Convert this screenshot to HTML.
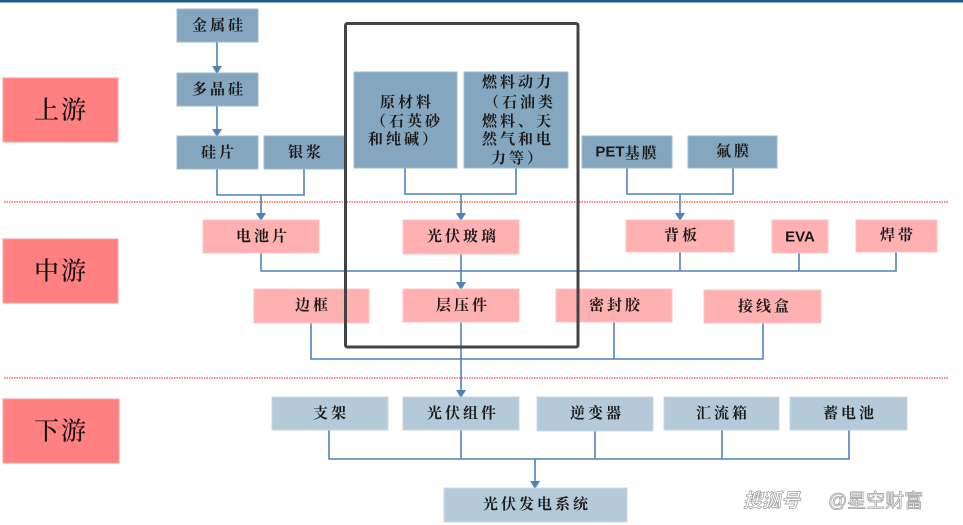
<!DOCTYPE html>
<html>
<head>
<meta charset="utf-8">
<style>
html,body{margin:0;padding:0;background:#fff;}
svg{display:block;}
.t{font-family:"Liberation Serif","Noto Serif CJK SC",serif;font-size:15px;font-weight:700;fill:#1a1a1a;letter-spacing:3px;text-anchor:middle;dominant-baseline:central;}
.l{font-family:"Liberation Serif","Noto Serif CJK SC",serif;font-size:25px;font-weight:500;fill:#111;letter-spacing:2px;text-anchor:middle;dominant-baseline:central;}
.s{font-family:"Liberation Sans","Noto Sans CJK SC",sans-serif;font-size:15px;font-weight:700;fill:#1a1a1a;text-anchor:middle;dominant-baseline:central;}
.up{fill:#84A7BF;stroke:#9FBBD0;stroke-width:1;}
.mid{fill:#FFB1B1;stroke:#FFC4C4;stroke-width:1;}
.dn{fill:#B5CAD9;stroke:#C8D8E4;stroke-width:1;}
.lab{fill:#FF8080;stroke:#FF9C9C;stroke-width:1;}
.c{stroke:#4F81BD;stroke-width:1.6;fill:none;}
.a{fill:#4F81BD;}
.d{stroke:#F04848;stroke-width:1.2;stroke-dasharray:1.5 1;fill:none;}
</style>
</head>
<body>
<svg width="963" height="525" viewBox="0 0 963 525" xmlns="http://www.w3.org/2000/svg">
<!-- top line -->
<rect x="0" y="0" width="963" height="2.5" fill="#1F5C8C"/>

<!-- dotted separators -->
<line class="d" x1="4" y1="202" x2="949" y2="202"/>
<line class="d" x1="4" y1="378" x2="949" y2="378"/>

<!-- labels -->
<rect class="lab" x="3" y="78" width="115" height="64"/>
<text class="l" x="61" y="111">上游</text>
<rect class="lab" x="3" y="239" width="115" height="64"/>
<text class="l" x="61" y="272">中游</text>
<rect class="lab" x="3" y="399" width="116" height="64"/>
<text class="l" x="61" y="432">下游</text>

<!-- connectors upstream -->
<line class="c" x1="217" y1="42" x2="217" y2="67"/>
<polygon class="a" points="212,66 222,66 217,74"/>
<line class="c" x1="217" y1="106" x2="217" y2="130"/>
<polygon class="a" points="212,129 222,129 217,137"/>
<polyline class="c" points="217,169 217,195 304,195 304,169"/>
<line class="c" x1="261" y1="195" x2="261" y2="214"/>
<polygon class="a" points="256,213 266,213 261,221"/>
<polyline class="c" points="405,168 405,194 516,194 516,168"/>
<line class="c" x1="461" y1="194" x2="461" y2="214"/>
<polygon class="a" points="456,213 466,213 461,221"/>
<polyline class="c" points="627,168 627,194 733,194 733,168"/>
<line class="c" x1="680" y1="194" x2="680" y2="214"/>
<polygon class="a" points="675,213 685,213 680,221"/>

<!-- midstream connectors -->
<polyline class="c" points="261,253 261,271 896,271 896,252"/>
<line class="c" x1="680" y1="252" x2="680" y2="271"/>
<line class="c" x1="799" y1="253" x2="799" y2="271"/>
<line class="c" x1="461" y1="254" x2="461" y2="283"/>
<polygon class="a" points="456,282 466,282 461,290"/>
<polyline class="c" points="311,323 311,359 763,359 763,323"/>
<line class="c" x1="614" y1="322" x2="614" y2="359"/>
<line class="c" x1="461" y1="322" x2="461" y2="391"/>
<polygon class="a" points="456,390 466,390 461,398"/>

<!-- downstream connectors -->
<polyline class="c" points="329,430 329,459 849,459 849,430"/>
<line class="c" x1="461" y1="430" x2="461" y2="459"/>
<line class="c" x1="595" y1="431" x2="595" y2="459"/>
<line class="c" x1="722" y1="430" x2="722" y2="459"/>
<line class="c" x1="535" y1="459" x2="535" y2="482"/>
<polygon class="a" points="530,481 540,481 535,489"/>

<!-- upstream boxes -->
<rect class="up" x="177" y="9" width="81" height="33"/>
<text class="t" x="219" y="26">金属硅</text>
<rect class="up" x="177" y="73" width="81" height="33"/>
<text class="t" x="219" y="90">多晶硅</text>
<rect class="up" x="177" y="136" width="81" height="33"/>
<text class="t" x="219" y="153">硅片</text>
<rect class="up" x="264" y="136" width="81" height="33"/>
<text class="t" x="306" y="153">银浆</text>

<rect class="up" x="354" y="72" width="103" height="96"/>
<text class="t" x="407" y="103">原材料</text>
<text class="t" x="407" y="122">（石英砂</text>
<text class="t" x="404" y="140">和纯碱）</text>

<rect class="up" x="464" y="72" width="104" height="96"/>
<text class="t" x="518" y="83">燃料动力</text>
<text class="t" x="520" y="103">（石油类</text>
<text class="t" x="518" y="122">燃料、天</text>
<text class="t" x="518" y="140">然气和电</text>
<text class="t" x="518" y="159">力等）</text>

<rect class="up" x="582" y="136" width="90" height="32"/>
<text class="s" x="627" y="152">PET<tspan font-family="Noto Serif CJK SC, serif" letter-spacing="2">基膜</tspan></text>
<rect class="up" x="688" y="136" width="89" height="32"/>
<text class="t" x="734" y="152">氟膜</text>

<!-- midstream boxes -->
<rect class="mid" x="203" y="220" width="116" height="33"/>
<text class="t" x="263" y="237">电池片</text>
<rect class="mid" x="403" y="220" width="116" height="34"/>
<text class="t" x="463" y="237">光伏玻璃</text>
<rect class="mid" x="626" y="220" width="108" height="32"/>
<text class="t" x="682" y="236">背板</text>
<rect class="mid" x="772" y="220" width="56" height="33"/>
<text class="s" x="800" y="237">EVA</text>
<rect class="mid" x="856" y="220" width="81" height="32"/>
<text class="t" x="898" y="236">焊带</text>

<rect class="mid" x="254" y="289" width="115" height="34"/>
<text class="t" x="313" y="306">边框</text>
<rect class="mid" x="403" y="289" width="116" height="33"/>
<text class="t" x="463" y="306">层压件</text>
<rect class="mid" x="556" y="289" width="116" height="33"/>
<text class="t" x="616" y="306">密封胶</text>
<rect class="mid" x="704" y="290" width="117" height="33"/>
<text class="t" x="765" y="307">接线盒</text>

<!-- frame -->
<rect x="345.5" y="23.5" width="232.5" height="323.5" rx="2" fill="none" stroke="#434343" stroke-width="3"/>

<!-- downstream boxes -->
<rect class="dn" x="272" y="397" width="116" height="33"/>
<text class="t" x="331" y="414">支架</text>
<rect class="dn" x="403" y="397" width="116" height="33"/>
<text class="t" x="463" y="414">光伏组件</text>
<rect class="dn" x="537" y="397" width="116" height="34"/>
<text class="t" x="597" y="414">逆变器</text>
<rect class="dn" x="664" y="397" width="115" height="33"/>
<text class="t" x="723" y="414">汇流箱</text>
<rect class="dn" x="790" y="397" width="117" height="33"/>
<text class="t" x="850" y="414">蓄电池</text>

<rect class="dn" x="444" y="488" width="183" height="34"/>
<text class="t" x="537" y="505">光伏发电系统</text>

<!-- watermark -->
<text x="743" y="507" font-family="Noto Sans CJK SC, sans-serif" font-size="19" font-weight="700" font-style="italic" fill="#ffffff" stroke="#9a9a9a" stroke-width="0.7">搜狐号</text>
<text x="828" y="507" font-family="Liberation Sans, Noto Sans CJK SC, sans-serif" font-size="19" fill="#ffffff" stroke="#9a9a9a" stroke-width="0.7">@星空财富</text>
</svg>
</body>
</html>
